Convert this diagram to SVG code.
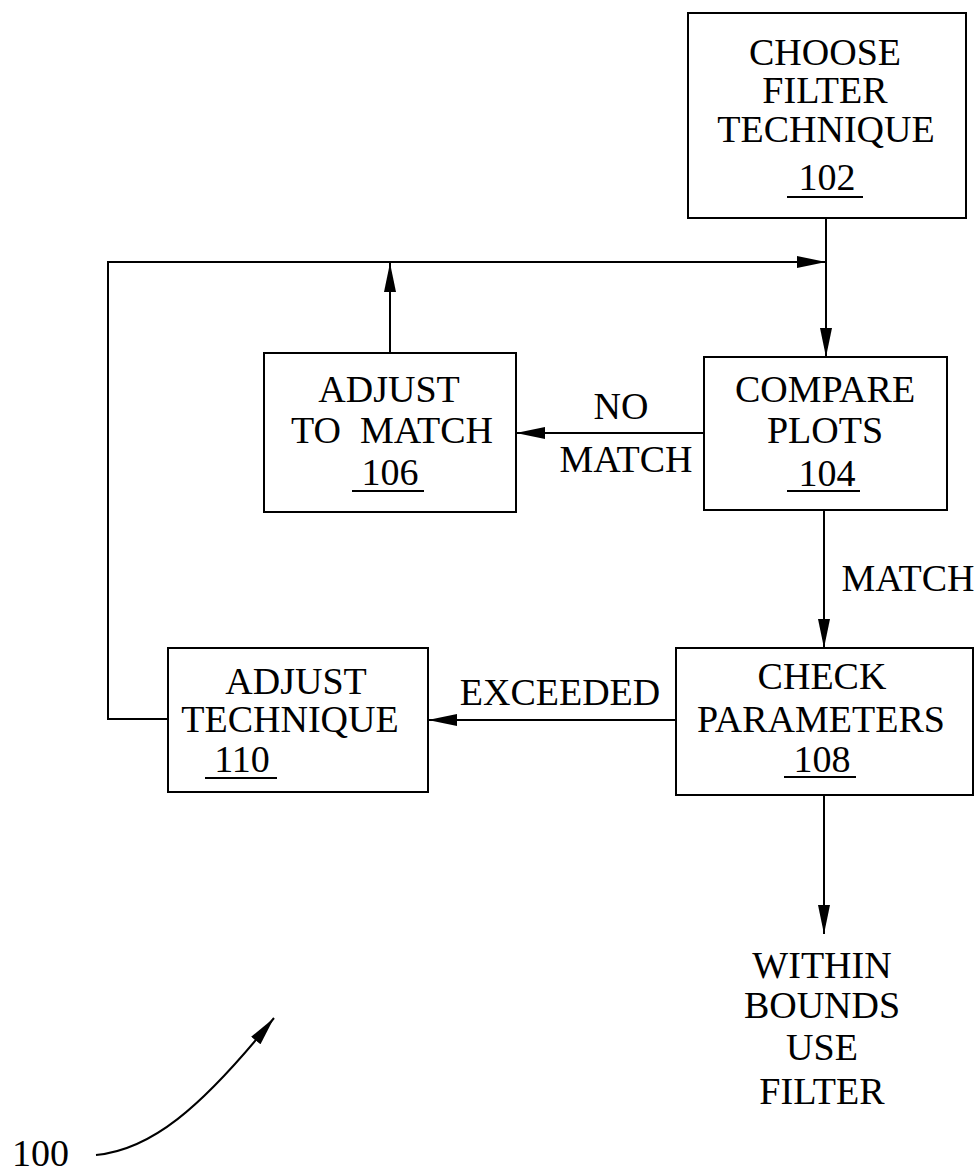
<svg xmlns="http://www.w3.org/2000/svg" width="980" height="1176" viewBox="0 0 980 1176">
<style>
.box{fill:#fff;stroke:#000;stroke-width:2}
.t{font-family:"Liberation Serif","Times New Roman",serif;font-size:38px;fill:#000;text-anchor:middle}
.ul{stroke:#000;stroke-width:2}
.c{fill:none;stroke:#000;stroke-width:2}
</style>
<defs>
<marker id="ah" markerUnits="userSpaceOnUse" markerWidth="30" markerHeight="14" viewBox="0 0 30 14" refX="29" refY="7" orient="auto">
<path d="M0,1 L29,7 L0,13 z" fill="#000"/>
</marker>
</defs>
<rect width="980" height="1176" fill="#fff"/>
<g id="connectors">
<line class="c" x1="826" y1="218" x2="826" y2="357" marker-end="url(#ah)"/>
<polyline class="c" points="168,719 108,719 108,262 826,262" marker-end="url(#ah)"/>
<line class="c" x1="390" y1="353" x2="390" y2="263" marker-end="url(#ah)"/>
<line class="c" x1="704" y1="433" x2="516" y2="433" marker-end="url(#ah)"/>
<line class="c" x1="824" y1="510" x2="824" y2="648" marker-end="url(#ah)"/>
<line class="c" x1="676" y1="720" x2="428" y2="720" marker-end="url(#ah)"/>
<line class="c" x1="824" y1="795" x2="824" y2="934" marker-end="url(#ah)"/>
<text class="t" x="621" y="419">NO</text>
<text class="t" x="626" y="472">MATCH</text>
<text class="t" x="908" y="591">MATCH</text>
<text class="t" x="560" y="705">EXCEEDED</text>
</g>
<g id="n102">
<rect class="box" x="688" y="13" width="278" height="205"/>
<text class="t" x="825" y="65">CHOOSE</text>
<text class="t" x="825" y="103">FILTER</text>
<text class="t" x="826" y="142">TECHNIQUE</text>
<text class="t" x="827" y="190">102</text>
<line class="ul" x1="787" y1="197" x2="863" y2="197"/>
</g>
<g id="n104">
<rect class="box" x="704" y="357" width="243" height="153"/>
<text class="t" x="825" y="402">COMPARE</text>
<text class="t" x="825" y="443">PLOTS</text>
<text class="t" x="827" y="486">104</text>
<line class="ul" x1="787" y1="491" x2="860" y2="491"/>
</g>
<g id="n106">
<rect class="box" x="264" y="353" width="252" height="159"/>
<text class="t" x="389" y="402">ADJUST</text>
<text class="t" x="392" y="443" xml:space="preserve">TO  MATCH</text>
<text class="t" x="390" y="485">106</text>
<line class="ul" x1="352" y1="491" x2="424" y2="491"/>
</g>
<g id="n108">
<rect class="box" x="676" y="648" width="297" height="147"/>
<text class="t" x="822" y="689">CHECK</text>
<text class="t" x="821" y="732">PARAMETERS</text>
<text class="t" x="822" y="772">108</text>
<line class="ul" x1="784" y1="777" x2="856" y2="777"/>
</g>
<g id="n110">
<rect class="box" x="168" y="648" width="260" height="144"/>
<text class="t" x="296" y="694">ADJUST</text>
<text class="t" x="290" y="732">TECHNIQUE</text>
<text class="t" x="242" y="772">110</text>
<line class="ul" x1="205" y1="778" x2="277" y2="778"/>
</g>
<g id="output">
<text class="t" x="822" y="978">WITHIN</text>
<text class="t" x="822" y="1018">BOUNDS</text>
<text class="t" x="822" y="1060">USE</text>
<text class="t" x="822" y="1104">FILTER</text>
</g>
<g id="ref100">
<text class="t" x="12" y="1166" style="text-anchor:start">100</text>
<path class="c" d="M96,1155 C150,1150 200,1110 274,1018" marker-end="url(#ah)"/>
</g>
</svg>
